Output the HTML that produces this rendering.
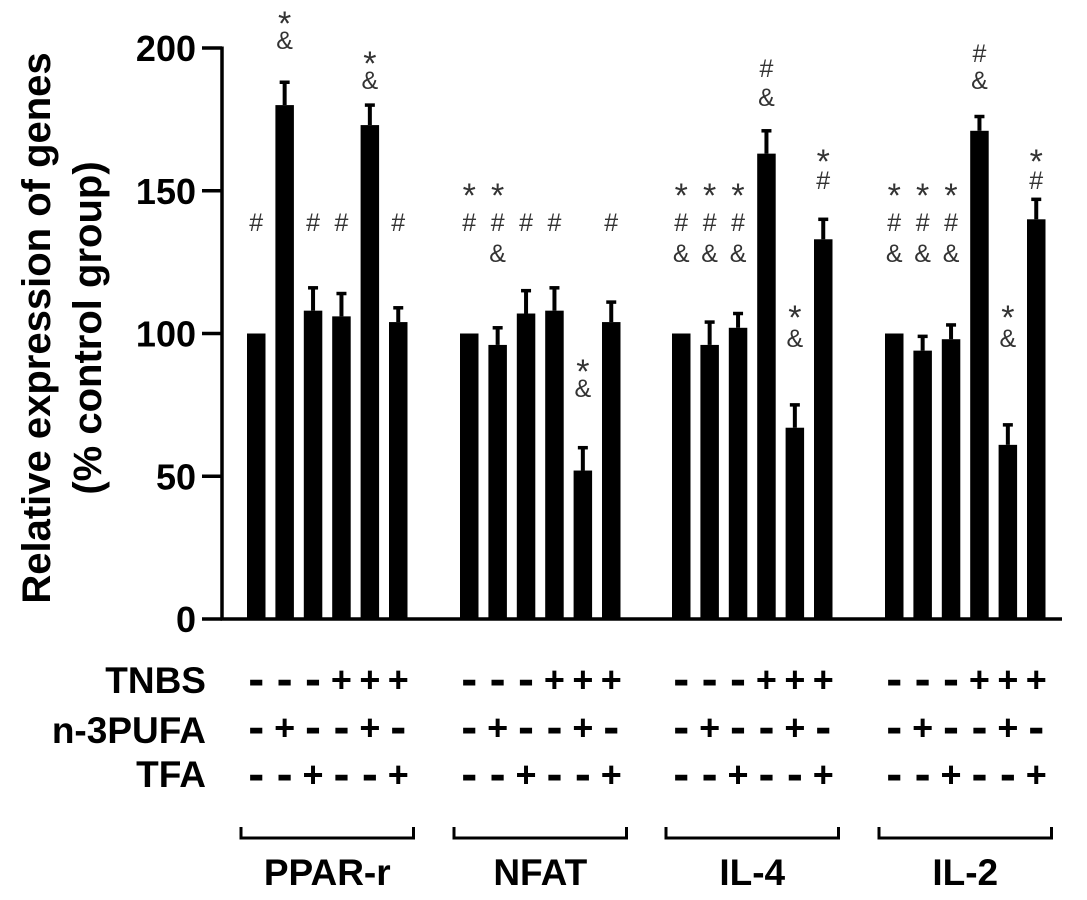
<!DOCTYPE html>
<html><head><meta charset="utf-8"><style>
body{margin:0;background:#fff}
svg{display:block}
text{font-family:"Liberation Sans",Arial,sans-serif}
</style></head><body>
<svg id="chart" width="1087" height="900" viewBox="0 0 1087 900" xmlns="http://www.w3.org/2000/svg">
<g id="axes"></g>
<g id="bars"></g>
<g id="annots"></g>
<g id="table"></g>
<text transform="translate(50,328) rotate(-90)" text-anchor="middle" font-size="40" font-weight="bold">Relative expression of genes</text>
<text transform="translate(101,328) rotate(-90)" text-anchor="middle" font-size="40" font-weight="bold">(% control group)</text>
</svg>
<script>
const groups = ["PPAR-r","NFAT","IL-4","IL-2"];
const means = [
  [100,180,108,106,173,104],
  [100,96,107,108,52,104],
  [100,96,102,163,67,133],
  [100,94,98,171,61,140]
];
const errs = [
  [0,8,8,8,7,5],
  [0,6,8,8,8,7],
  [0,8,5,8,8,7],
  [0,5,5,5,7,7]
];
const yTicks = [0,50,100,150,200];
const tnbs = ["-","-","-","+","+","+"];
const pufa = ["-","+","-","-","+","-"];
const tfa  = ["-","-","+","-","-","+"];
// annotations: [group, bar, symbol, y-pixel]
const annotations = [
 [0,0,"#",222],[0,1,"*",18],[0,1,"&",40],[0,2,"#",222],[0,3,"#",222],[0,4,"*",58],[0,4,"&",80],[0,5,"#",222],
 [1,0,"*",190],[1,0,"#",222],[1,1,"*",190],[1,1,"#",222],[1,1,"&",253],[1,2,"#",222],[1,3,"#",222],[1,4,"*",366],[1,4,"&",388],[1,5,"#",222],
 [2,0,"*",190],[2,0,"#",222],[2,0,"&",253],[2,1,"*",190],[2,1,"#",222],[2,1,"&",253],[2,2,"*",190],[2,2,"#",222],[2,2,"&",253],
 [2,3,"#",68],[2,3,"&",97],[2,4,"*",312],[2,4,"&",338],[2,5,"*",156],[2,5,"#",180],
 [3,0,"*",190],[3,0,"#",222],[3,0,"&",253],[3,1,"*",190],[3,1,"#",222],[3,1,"&",253],[3,2,"*",190],[3,2,"#",222],[3,2,"&",253],
 [3,3,"#",53],[3,3,"&",80],[3,4,"*",312],[3,4,"&",338],[3,5,"*",156],[3,5,"#",180]
];
const NS="http://www.w3.org/2000/svg";
const Y0=619, Y200=48;
function y(v){return Y0-(v/200)*(Y0-Y200);}
const groupStart=[247,460,672,885], step=28.4, bw=18.5;
function xb(g,i){return groupStart[g]+i*step;}
function mk(parent,tag,attrs,txt){const e=document.createElementNS(NS,tag);for(const k in attrs)e.setAttribute(k,attrs[k]);if(txt!==undefined)e.textContent=txt;parent.appendChild(e);return e;}
const axes=document.getElementById('axes');
let e=mk(axes,'line',{x1:222,y1:Y200-1.5,x2:222,y2:Y0+1.5,stroke:'#000','stroke-width':3.5});


e=mk(axes,'line',{x1:220.5,y1:Y0,x2:1062,y2:Y0,stroke:'#000','stroke-width':3.5});


yTicks.forEach(t=>{
  let l=mk(axes,'line',{x1:202,y1:y(t),x2:222,y2:y(t),stroke:'#000','stroke-width':3.5});
  
  
  let tx=mk(axes,'text',{x:196,y:y(t)+13,'text-anchor':'end','font-size':36,'font-weight':'bold'},String(t));
  
  
});
const bars=document.getElementById('bars');
means.forEach((row,g)=>row.forEach((v,i)=>{
  const x=xb(g,i);
  let r=mk(bars,'rect',{x:x,y:y(v),width:bw,height:Y0-y(v),fill:'#000'});
  
  
  if(errs[g][i]>0){
    const cx=x+bw/2, top=y(v+errs[g][i]);
    let l=mk(bars,'line',{x1:cx,y1:top,x2:cx,y2:y(v),stroke:'#000','stroke-width':4});
    
    
    let c=mk(bars,'line',{x1:cx-5,y1:top,x2:cx+5,y2:top,stroke:'#000','stroke-width':3.5});
    
    
  }
}));
const an=document.getElementById('annots');
annotations.forEach(a=>{
  const cx=xb(a[0],a[1])+bw/2;
  const star=a[2]==="*";
  let t=mk(an,'text',{x:cx,y:a[3]+(star?17:9),'text-anchor':'middle','font-size':star?34:25,fill:'#333'},a[2]);
  
  
});
const tb=document.getElementById('table');
const rows=[["TNBS",tnbs,693,680],["n-3PUFA",pufa,743,728],["TFA",tfa,787,775]];
rows.forEach(r=>{
  let lab=mk(tb,'text',{x:206,y:r[2],'text-anchor':'end','font-size':37,'font-weight':'bold'},r[0]);
  
  
  groups.forEach((gname,g)=>r[1].forEach((s,i)=>{
    const cx=xb(g,i)+bw/2;
    let t;
    if(s==="-") t=mk(tb,'text',{x:cx,y:r[3]+15,'text-anchor':'middle','font-size':48,'font-weight':'bold'},"-");
    else t=mk(tb,'text',{x:cx,y:r[3]+12,'text-anchor':'middle','font-size':36,'font-weight':'bold'},"+");
    
    
  }));
});
groups.forEach((gname,g)=>{
  const x1=xb(g,0)-6, x2=xb(g,5)+bw+6;
  let p=mk(tb,'path',{d:`M${x1},827 L${x1},838 L${x2},838 L${x2},827`,fill:'none',stroke:'#000','stroke-width':3});
  
  
  let t=mk(tb,'text',{x:(x1+x2)/2,y:885,'text-anchor':'middle','font-size':37,'font-weight':'bold'},gname);
  
  
});
</script>
</body></html>
